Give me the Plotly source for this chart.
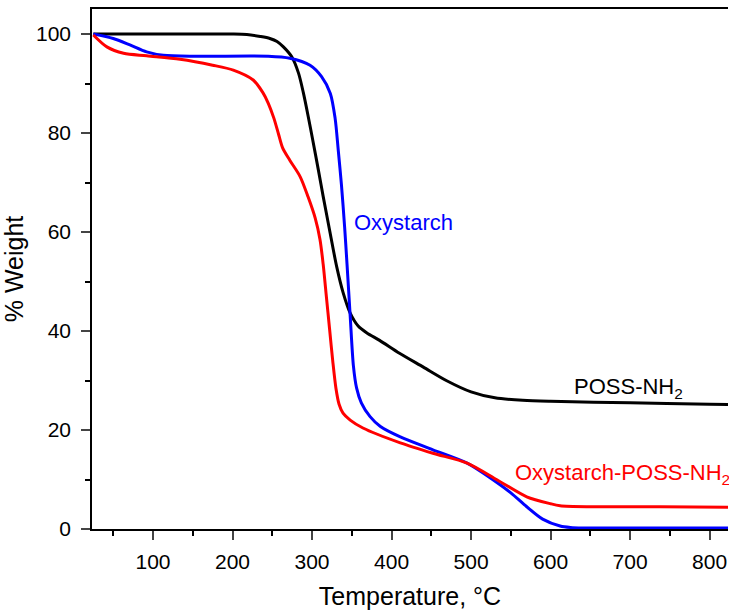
import plotly.graph_objects as go

# POSS-NH2 (black)
poss_t = [25, 100, 200, 218, 235, 247, 256, 264, 274.5, 283, 289, 295, 301, 308, 314, 323, 331, 339, 348, 358, 369, 385, 410, 440, 470, 500, 530, 565, 600, 700, 800, 840]
poss_w = [100, 100, 100, 99.9, 99.5, 99.1, 98.5, 97.4, 95.4, 92.1, 88.2, 83.5, 78.5, 72.5, 67.2, 59.6, 53, 47.8, 43.6, 41.0, 39.6, 38.1, 35.5, 32.7, 29.9, 27.7, 26.5, 26.0, 25.8, 25.5, 25.2, 25.1]

# Oxystarch (blue)
oxy_t = [25, 50, 71, 92, 113, 155, 245, 272, 297.5, 312, 323, 329, 333, 337, 341, 344, 348, 352, 356, 362, 373, 386, 411, 452, 495, 528, 550, 570, 590, 612, 625, 640, 700, 840]
oxy_w = [100, 99.1, 97.8, 96.4, 95.7, 95.5, 95.5, 95.1, 93.7, 91.4, 88, 83, 76.5, 69.5, 61, 53.5, 43, 33, 28.5, 25.5, 22.7, 20.7, 18.6, 16, 13.3, 9.9, 7.3, 4.5, 2.0, 0.6, 0.3, 0.2, 0.2, 0.2]

# Oxystarch-POSS-NH2 (red)
op_t = [25, 42, 63, 92, 134, 175, 201, 226, 238, 245, 252, 258, 263, 272, 285, 295, 304, 310, 314, 318, 322, 326, 330, 334, 339, 348, 364, 411, 452, 495, 533, 570, 600, 612, 650, 738, 840]
op_w = [99.8, 97.4, 96.1, 95.6, 94.9, 93.7, 92.7, 90.7, 88.2, 86, 83, 79.7, 77, 74.5, 71.2, 67.1, 62.8, 58.5, 53.5, 47, 40.5, 34, 28.5, 25.2, 23.4, 22, 20.4, 17.4, 15.3, 13.3, 9.9, 6.5, 5.1, 4.7, 4.5, 4.5, 4.4]

FONT = "Liberation Sans, Arial, sans-serif"

fig = go.Figure()
for t, w, c, name in [(poss_t, poss_w, "#000000", "POSS-NH2"),
                      (oxy_t, oxy_w, "#0000FF", "Oxystarch"),
                      (op_t, op_w, "#FF0000", "Oxystarch-POSS-NH2")]:
    fig.add_trace(go.Scatter(x=t, y=w, mode="lines", name=name,
                             line=dict(color=c, width=3, shape="spline", smoothing=0.8)))

fig.add_annotation(x=350.3, y=62.0, text="Oxystarch", showarrow=False, xanchor="left", yanchor="middle",
                   font=dict(family=FONT, size=22, color="#0000FF"))
fig.add_annotation(x=627, y=28.5, text="POSS-NH<sub>2</sub>", showarrow=False, xanchor="left", yanchor="middle",
                   font=dict(family=FONT, size=22, color="#000000"))
fig.add_annotation(x=553, y=11.1, text="Oxystarch-POSS-NH<sub>2</sub>", showarrow=False, xanchor="left", yanchor="middle",
                   font=dict(family=FONT, size=22, color="#FF0000"))

fig.update_layout(
    width=729, height=610,
    margin=dict(l=92, r=1, t=9, b=81),
    paper_bgcolor="white", plot_bgcolor="white",
    showlegend=False,
    font=dict(family=FONT, color="#000000"),
)
fig.update_xaxes(range=[23.3, 823.1], tick0=0, dtick=100, ticks="outside", ticklen=9, tickwidth=1.5,
                 showline=True, linecolor="black", linewidth=1.5, mirror=True, showgrid=False, zeroline=False,
                 tickfont=dict(size=21), ticklabelstandoff=4,
                 minor=dict(dtick=50, ticks="outside", ticklen=5, tickwidth=1.5, tickcolor="black"),
                 title=dict(text="Temperature, °C", font=dict(size=25), standoff=16))
fig.update_yaxes(range=[0, 105.05], tick0=0, dtick=20, ticks="outside", ticklen=9, tickwidth=1.5,
                 showline=True, linecolor="black", linewidth=1.5, mirror=False, showgrid=False, zeroline=False,
                 tickfont=dict(size=21), ticklabelstandoff=6,
                 minor=dict(dtick=10, ticks="outside", ticklen=5, tickwidth=1.5, tickcolor="black"),
                 title=dict(text="% Weight", font=dict(size=25), standoff=14))

fig.write_html("out.html")
